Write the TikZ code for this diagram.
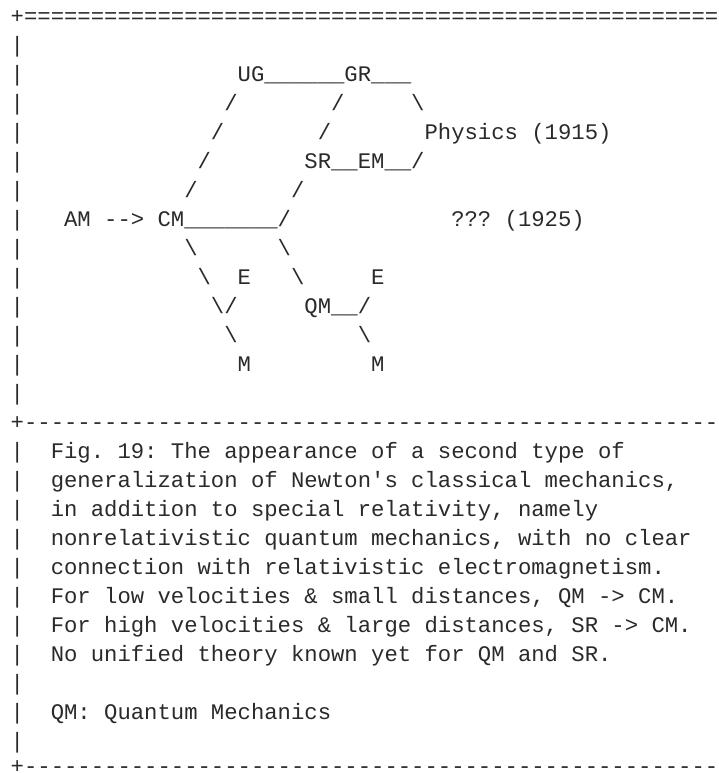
\documentclass[tikz,border=0pt]{standalone}
\usepackage{fontspec}
\setmonofont{Liberation Mono}
\definecolor{asciiink}{HTML}{2A2A2A}
\newcommand{\asciibs}{\textbackslash}

\begin{document}
\begin{tikzpicture}[x=13.35pt,y=-29pt]
  \tikzstyle{glyph}=[anchor=base west, inner sep=0pt, text=asciiink,
    font=\fontsize{22.25pt}{29pt}\selectfont\ttfamily\frenchspacing]
  \useasboundingbox (-10.5pt,23.4pt) rectangle (708.5pt,-749.6pt);
  \clip (-10.5pt,23.4pt) rectangle (708.5pt,-749.6pt);

  % frame
  \node[glyph] (topline) at (0,0) {+====================================================};
  \node[glyph] (midline) at (0,14) {+----------------------------------------------------};
  \node[glyph, yshift=4pt] (botline) at (0,26) {+----------------------------------------------------};
  \foreach \row in {1,...,13}
    \node[glyph] (bar\row) at (0,\row) {|};
  \foreach \row in {15,...,25}
    \node[glyph] (bar\row) at (0,\row) {|};

  % diagram, column/row of each piece
  \foreach \col/\row/\txt/\nm in {
    17/2/UG/UG, 19/2/{\_\_\_\_\_\_}/ugr, 25/2/GR/GR, 27/2/{\_\_\_}/grphys,
    16/3/{/}/ugcm3, 24/3/{/}/grsr3, 30/3/{\asciibs}/grphys3,
    15/4/{/}/ugcm4, 23/4/{/}/grsr4, 31/4/{Physics (1915)}/phys,
    14/5/{/}/ugcm5, 22/5/SR/SR, 24/5/{\_\_}/srem, 26/5/EM/EM,
    28/5/{\_\_}/emphys, 30/5/{/}/emphys5,
    13/6/{/}/ugcm6, 21/6/{/}/srcm6,
    4/7/AM/AM, 7/7/{-->}/amcm, 11/7/CM/CM, 13/7/{\_\_\_\_\_\_\_}/cmsr,
    20/7/{/}/srcm7, 33/7/{??? (1925)}/qqq,
    13/8/{\asciibs}/cmm8, 20/8/{\asciibs}/cmqm8,
    14/9/{\asciibs}/cmm9, 17/9/E/Ea, 21/9/{\asciibs}/cmqm9, 27/9/E/Eb,
    15/10/{\asciibs}/cmm10, 16/10/{/}/Eam, 22/10/QM/QM, 24/10/{\_\_}/qme,
    26/10/{/}/qmEb,
    16/11/{\asciibs}/Ma11, 26/11/{\asciibs}/Mb11,
    17/12/M/Ma, 27/12/M/Mb}
    \node[glyph] (\nm) at (\col,\row) {\txt};

  % caption
  \foreach \row/\txt in {
    15/{Fig. 19: The appearance of a second type of},
    16/{generalization of Newton's classical mechanics,},
    17/{in addition to special relativity, namely},
    18/{nonrelativistic quantum mechanics, with no clear},
    19/{connection with relativistic electromagnetism.},
    20/{For low velocities \& small distances, QM -> CM.},
    21/{For high velocities \& large distances, SR -> CM.},
    22/{No unified theory known yet for QM and SR.},
    24/{QM: Quantum Mechanics}}
    \node[glyph] (caption\row) at (3,\row) {\txt};
\end{tikzpicture}
\end{document}
